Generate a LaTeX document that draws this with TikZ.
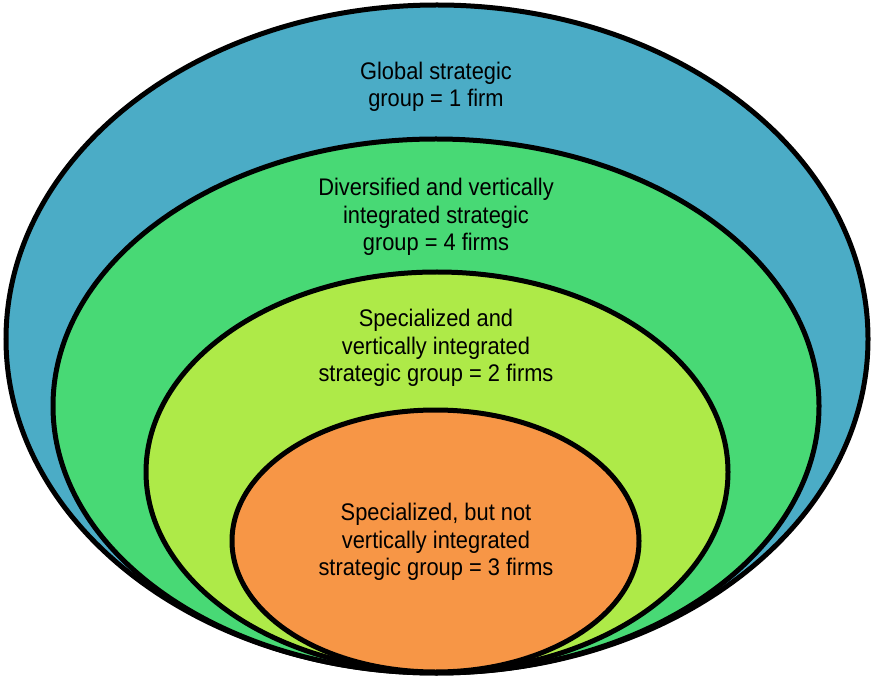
\documentclass[tikz,border=0pt]{standalone}
\usepackage{fontspec}
\setmainfont{Liberation Sans}
\definecolor{globalblue}{RGB}{75,172,198}
\definecolor{diversgreen}{RGB}{72,217,117}
\definecolor{speclime}{RGB}{174,234,72}
\definecolor{specorange}{RGB}{247,150,70}
\tikzset{
  ring/.style={draw=black, line width=5pt},
  grouptext/.style={align=center, font=\fontsize{24}{27.5}\selectfont, inner sep=0pt, xscale=0.91}
}
\begin{document}
\begin{tikzpicture}[x=1pt, y=1pt]
  \useasboundingbox (0,0) rectangle (872,678);

  % Define groups
  \filldraw[ring, fill=globalblue] (437,339) ellipse [x radius=431, y radius=334];
  \filldraw[ring, fill=diversgreen] (436,272) ellipse [x radius=383, y radius=267];
  \filldraw[ring, fill=speclime] (437,206) ellipse [x radius=291, y radius=200];
  \filldraw[ring, fill=specorange] (435.5,137) ellipse [x radius=203.5, y radius=131];

  % Define labels
  \node[grouptext] (global) at (436,591) {Global strategic\\group = 1 firm};
  \node[grouptext] (divers) at (436,461) {Diversified and vertically\\integrated strategic\\group = 4 firms};
  \node[grouptext] (specint) at (436,330) {Specialized and\\vertically integrated\\strategic group = 2 firms};
  \node[grouptext] (specnot) at (436,136) {Specialized, but not\\vertically integrated\\strategic group = 3 firms};
\end{tikzpicture}
\end{document}
